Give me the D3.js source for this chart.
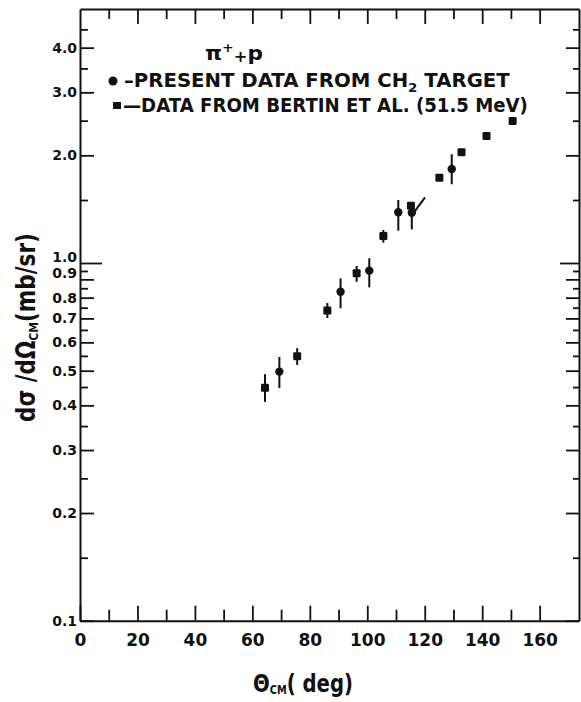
<!DOCTYPE html>
<html>
<head>
<meta charset="utf-8">
<script src="https://cdn.jsdelivr.net/npm/d3@7"></script>
<style>
  body { margin: 0; background: #fff; }
  svg { display: block; }
  .axis path, .axis line { stroke: #111; }
  .axis path { stroke-width: 2; }
  .axis line { stroke-width: 1.8; }
  .axis text { font-family: "DejaVu Sans", sans-serif; font-weight: bold; fill: #111; }
</style>
</head>
<body>
<svg id="chart" width="581" height="702"></svg>
<script>
// present data from CH2 target (circles)
const presentDeg = [69.4, 90.7, 100.7, 110.8, 115.5, 129.4];
const presentVal = [0.497, 0.831, 0.952, 1.386, 1.382, 1.831];
const presentLo = [0.447, 0.747, 0.855, 1.231, 1.242, 1.66];
const presentHi = [0.546, 0.906, 1.031, 1.50, 1.469, 2.014];

// Bertin et al. 51.5 MeV (squares)
const bertinDeg = [64.4, 75.6, 86.1, 96.3, 105.6, 115.2, 125.1, 132.8, 141.5, 150.6];
const bertinVal = [0.448, 0.549, 0.736, 0.936, 1.19, 1.446, 1.732, 2.04, 2.265, 2.494];
const bertinLo = [0.409, 0.519, 0.702, 0.886, 1.14, null, null, null, null, null];
const bertinHi = [0.489, 0.578, 0.773, 0.981, 1.237, null, null, null, null, null];

// little slash drawn next to the 115 deg point
const slash = [[116.0, 1.377], [120.1, 1.526]];

const xMajor = [0, 20, 40, 60, 80, 100, 120, 140, 160];
const xMinor = [10, 30, 50, 70, 90, 110, 130, 150];
const xTop = [10, 20, 30, 40, 50, 60, 70, 80, 90, 100, 110, 120, 130, 140, 150, 160];
const yMajor = [0.1, 0.2, 0.3, 0.4, 0.5, 0.6, 0.7, 0.8, 0.9, 1.0, 2.0, 3.0, 4.0];
const yMinor = [0.15, 0.25, 0.35, 0.45, 0.55, 0.65, 0.75, 0.85, 0.95, 1.5, 2.5, 3.5, 4.5];

const svg = d3.select("#chart");

const x = d3.scaleLinear().domain([0, 173.7]).range([80, 579]);
const y = d3.scaleLog().domain([0.1, 5.13]).range([620.7, 9]);

// axes - ticks all point into the plot
const bottom = svg.append("g").attr("class", "axis")
    .attr("transform", "translate(0,620.7)")
    .call(d3.axisBottom(x).tickValues(xMajor).tickSizeInner(-15).tickSizeOuter(0).tickPadding(13)
        .tickFormat(d3.format("d")));
bottom.selectAll("text").style("font-size", "17px");

svg.append("g").attr("class", "axis")
    .attr("transform", "translate(0,620.7)")
    .call(d3.axisBottom(x).tickValues(xMinor).tickSizeInner(-11).tickSizeOuter(0).tickFormat(""))
    .select(".domain").remove();

svg.append("g").attr("class", "axis")
    .attr("transform", "translate(0,9)")
    .call(d3.axisTop(x).tickValues(xTop).tickSize(0).tickFormat(""))
    .selectAll(".tick line")
    .attr("y2", (d) => (d % 20 === 0 ? 15 : 10));

const left = svg.append("g").attr("class", "axis")
    .attr("transform", "translate(80,0)")
    .call(d3.axisLeft(y).tickValues(yMajor).tickSizeInner(-14).tickSizeOuter(0).tickPadding(3)
        .tickFormat(d3.format(".1f")));
left.selectAll("text").style("font-size", "14px");
left.selectAll(".tick").filter((d) => d === 1).select("line").attr("x2", 22);
// 1.0 and 0.9 are crowded, so their labels sit a little higher
left.selectAll(".tick").filter((d) => d === 1).select("text").attr("dy", "-0.11em");
left.selectAll(".tick").filter((d) => d === 0.9).select("text").attr("dy", "-0.14em");

svg.append("g").attr("class", "axis")
    .attr("transform", "translate(80,0)")
    .call(d3.axisLeft(y).tickValues(yMinor).tickSizeInner(-8).tickSizeOuter(0).tickFormat(""))
    .select(".domain").remove();

const right = svg.append("g").attr("class", "axis")
    .attr("transform", "translate(579,0)")
    .call(d3.axisRight(y).tickValues(yMajor).tickSizeInner(-13).tickSizeOuter(0).tickFormat(""));
right.selectAll(".tick").filter((d) => d === 1).select("line").attr("x2", -19);

svg.append("g").attr("class", "axis")
    .attr("transform", "translate(579,0)")
    .call(d3.axisRight(y).tickValues(yMinor).tickSizeInner(-6).tickSizeOuter(0).tickFormat(""))
    .select(".domain").remove();

// error bars
function bars(deg, val, lo, hi) {
    return deg.map((d, i) => ({ d, v: val[i], lo: lo[i], hi: hi[i] }));
}
const present = bars(presentDeg, presentVal, presentLo, presentHi);
const bertin = bars(bertinDeg, bertinVal, bertinLo, bertinHi);

svg.append("g").selectAll("line")
    .data(present.concat(bertin).filter((p) => p.lo !== null))
    .enter().append("line")
    .attr("x1", (p) => x(p.d)).attr("x2", (p) => x(p.d))
    .attr("y1", (p) => y(p.lo)).attr("y2", (p) => y(p.hi))
    .attr("stroke", "#111").attr("stroke-width", 2);

svg.append("g").selectAll("rect")
    .data(bertin)
    .enter().append("rect")
    .attr("x", (p) => x(p.d) - 4).attr("y", (p) => y(p.v) - 4)
    .attr("width", 8).attr("height", 8).attr("rx", 1.2)
    .attr("fill", "#111");

svg.append("g").selectAll("circle")
    .data(present)
    .enter().append("circle")
    .attr("cx", (p) => x(p.d)).attr("cy", (p) => y(p.v))
    .attr("r", 4.2).attr("fill", "#111");

svg.append("path")
    .attr("d", d3.line().x((p) => x(p[0])).y((p) => y(p[1]))(slash))
    .attr("stroke", "#111").attr("stroke-width", 2).attr("fill", "none");

// stretch a text so it spans the wanted width
function fit(text, width) {
    const w = text.node().getBBox().width;
    return width / w;
}

const font = "DejaVu Sans, sans-serif";

// legend
const react = svg.append("text").attr("font-family", font).attr("font-weight", "bold")
    .attr("font-size", 20).attr("fill", "#111");
react.append("tspan").text("π");
react.append("tspan").attr("font-size", 13).attr("dy", -8).text("+");
react.append("tspan").attr("font-size", 15).attr("dy", 10).text("+");
react.append("tspan").attr("dy", -2).text("p");
react.attr("transform", `translate(205,60) scale(${fit(react, 58)},1)`);

svg.append("circle").attr("cx", 113).attr("cy", 81).attr("r", 4.5).attr("fill", "#111");
svg.append("rect").attr("x", 113).attr("y", 102).attr("width", 8).attr("height", 7).attr("fill", "#111");

const line1 = svg.append("text").attr("font-family", font).attr("font-weight", "bold")
    .attr("font-size", 19).attr("fill", "#111");
line1.append("tspan").text("–PRESENT  DATA  FROM  CH");
line1.append("tspan").attr("font-size", 13).attr("dy", 5).text("2");
line1.append("tspan").attr("dy", -5).text("  TARGET");
line1.attr("transform", `translate(124,87) scale(${fit(line1, 386)},1)`);

const line2 = svg.append("text").attr("font-family", font).attr("font-weight", "bold")
    .attr("font-size", 19).attr("fill", "#111")
    .text("—DATA  FROM  BERTIN  ET  AL. (51.5 MeV)");
line2.attr("transform", `translate(123,112) scale(${fit(line2, 405)},1)`);

// axis titles
const xt = svg.append("text").attr("font-family", font).attr("font-weight", "bold")
    .attr("font-size", 24).attr("fill", "#111");
xt.append("tspan").text("Θ");
xt.append("tspan").attr("font-size", 12).attr("dy", 2).text("CM");
xt.append("tspan").attr("dy", -2).text("( deg)");
xt.attr("transform", `translate(253,692) scale(${fit(xt, 100)},1)`);

const yt = svg.append("text").attr("font-family", font).attr("font-weight", "bold")
    .attr("font-size", 26).attr("fill", "#111");
yt.append("tspan").text("dσ /dΩ");
yt.append("tspan").attr("font-size", 13).attr("dy", 3).text("CM");
yt.append("tspan").attr("dy", -3).text("(mb/sr)");
yt.attr("transform", `translate(35,422) rotate(-90) scale(${fit(yt, 189)},1)`);
</script>
</body>
</html>
